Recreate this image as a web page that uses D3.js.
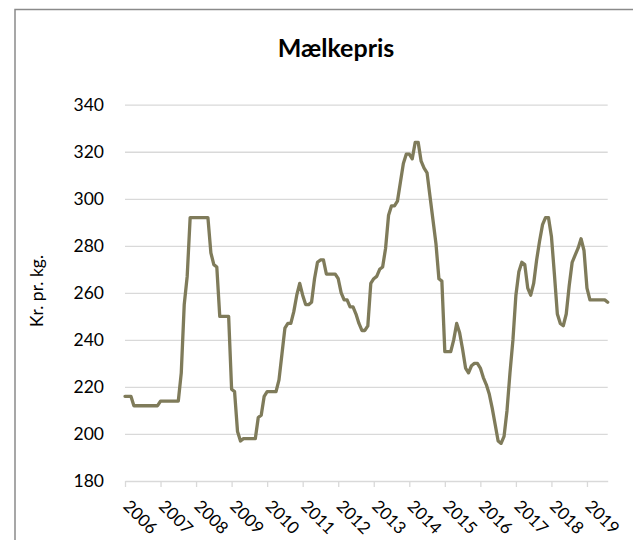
<!DOCTYPE html>
<html>
<head>
<meta charset="utf-8">
<script src="https://cdn.jsdelivr.net/npm/d3@7"></script>
<style>
  html, body { margin: 0; padding: 0; background: #fff; }
  svg { display: block; }
  text { font-family: Lato, "Noto Sans", sans-serif; fill: #000; }
</style>
</head>
<body>
<svg id="chart" width="633" height="540"></svg>
<script>
// Monthly milk price, Jan 2006 onwards (kr. per kg)
const yearLabels = ["2006","2007","2008","2009","2010","2011","2012",
                    "2013","2014","2015","2016","2017","2018","2019"];
const prices = [
  216,216,216,212,212,212,212,212,212,212,212,212,   // 2006
  214,214,214,214,214,214,214,226,255,267,292,292,   // 2007
  292,292,292,292,292,277,272,271,250,250,250,250,   // 2008
  219,218,201,197,198,198,198,198,198,207,208,216,   // 2009
  218,218,218,218,223,234,245,247,247,252,259,264,   // 2010
  259,255,255,256,266,273,274,274,268,268,268,268,   // 2011
  266,260,257,257,254,254,251,247,244,244,246,264,   // 2012
  266,267,270,271,279,293,297,297,299,307,315,319,   // 2013
  319,317,324,324,316,313,311,301,291,281,266,265,   // 2014
  235,235,235,240,247,243,236,228,226,229,230,230,   // 2015
  228,224,221,217,211,204,197,196,199,210,226,240,   // 2016
  259,269,273,272,262,259,264,274,282,289,292,292,   // 2017
  284,268,251,247,246,251,263,273,276,279,283,278,   // 2018
  262,257,257,257,257,257,257,256                    // 2019
];
const yTicks = [180, 200, 220, 240, 260, 280, 300, 320, 340];

const svg = d3.select("#chart");

// Outer chart frame
svg.append("rect")
  .attr("x", 15).attr("y", 9.5)
  .attr("width", 700).attr("height", 700)
  .attr("fill", "none")
  .attr("stroke", "#8a8a8a")
  .attr("stroke-width", 1.5);

const plot = { left: 125, right: 607.7, top: 104.7, bottom: 481 };

const x = d3.scaleLinear()
  .domain([0, prices.length - 1])
  .range([plot.left, plot.right]);

const y = d3.scaleLinear()
  .domain([180, 340])
  .range([plot.bottom, plot.top]);

// Horizontal gridlines with value labels
const yAxis = d3.axisLeft(y)
  .tickValues(yTicks)
  .tickSize(0)
  .tickPadding(21)
  .tickFormat(d3.format("d"));

const yg = svg.append("g")
  .attr("transform", `translate(${plot.left},0)`)
  .call(yAxis);
yg.select(".domain").remove();
yg.selectAll(".tick text")
  .style("font-size", "17.5px")
  .attr("fill", "#000");
yg.selectAll(".tick")
  .filter(d => d !== 180)
  .append("line")
  .attr("x1", 0)
  .attr("x2", plot.right - plot.left)
  .attr("stroke", "#d9d9d9")
  .attr("stroke-width", 1.3);

// Category axis: one tick per year
const yearIdx = yearLabels.map((_, i) => i * 12);
const xAxis = d3.axisBottom(x)
  .tickValues(yearIdx)
  .tickSize(6)
  .tickSizeOuter(0)
  .tickFormat((d, i) => yearLabels[i]);

const xg = svg.append("g")
  .attr("transform", `translate(0,${plot.bottom})`)
  .call(xAxis);
xg.select(".domain")
  .attr("stroke", "#d9d9d9")
  .attr("stroke-width", 1.3);
xg.selectAll(".tick line")
  .attr("stroke", "#d9d9d9")
  .attr("stroke-width", 1.3);
xg.selectAll(".tick text")
  .attr("y", 0)
  .attr("dy", "0.35em")
  .attr("text-anchor", "start")
  .attr("transform", "translate(1,22) rotate(45)")
  .style("font-size", "17px")
  .attr("fill", "#000");

// Price line
const line = d3.line()
  .x((d, i) => x(i))
  .y(d => y(d));

svg.append("path")
  .datum(prices)
  .attr("d", line)
  .attr("fill", "none")
  .attr("stroke", "#7f7b5a")
  .attr("stroke-width", 3.3)
  .attr("stroke-linejoin", "round")
  .attr("stroke-linecap", "round");

// Title
svg.append("text")
  .attr("x", 336).attr("y", 57)
  .attr("text-anchor", "middle")
  .style("font-size", "25px")
  .style("font-weight", "bold")
  .text("Mælkepris");

// Y axis title
svg.append("text")
  .attr("transform", "translate(43,291) rotate(-90)")
  .attr("text-anchor", "middle")
  .style("font-size", "17.5px")
  .text("Kr. pr. kg.");
</script>
</body>
</html>
